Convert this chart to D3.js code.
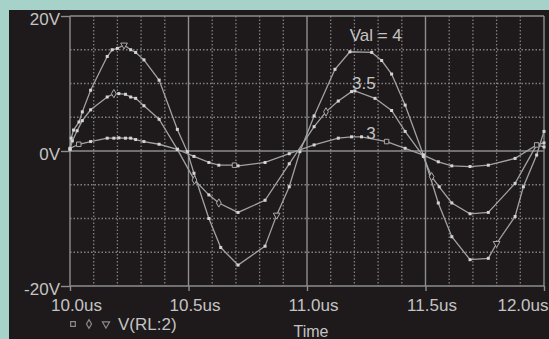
<!DOCTYPE html>
<html><head><meta charset="utf-8">
<script src="https://cdn.jsdelivr.net/npm/d3@7"></script>
<style>
html,body{margin:0;padding:0;background:#a7d2ca;overflow:hidden}
svg{display:block}
text{font-family:"Liberation Sans",Arial,sans-serif;fill:#c4c4c4}
</style></head><body>
<svg id="c" width="549" height="339"></svg>
<script>
// ---- data ----
const seriesNames = ["Val = 4", "3.5", "3"];
const xTicks = [10.0, 10.5, 11.0, 11.5, 12.0];
const yTicks = [20, 0, -20];
const xMinor = [10.1,10.2,10.3,10.4,10.6,10.7,10.8,10.9,11.1,11.2,11.3,11.4,11.6,11.7,11.8,11.9];
const yMinor = [15,10,5,-5,-10,-15];
const legendLabel = "V(RL:2)";
const xTitle = "Time";

const val4T = [10.000,10.005,10.015,10.038,10.052,10.087,10.157,10.178,10.200,10.228,10.256,10.277,10.312,10.376,10.453,10.495,10.523,10.586,10.636,10.709,10.823,10.872,10.925,10.970,11.030,11.118,11.181,11.273,11.315,11.357,11.414,11.491,11.554,11.611,11.688,11.765,11.800,11.878,11.913,11.969,12.000];
const val4V = [0.3,1.9,3.1,4.3,5.8,9.0,14.0,15.0,15.2,15.7,15.0,14.6,13.5,10.5,3.2,-0.1,-3.3,-10.0,-14.3,-16.9,-14.1,-9.5,-5.3,-0.1,5.2,12.1,14.7,14.6,13.4,11.4,6.8,-0.6,-7.7,-12.7,-16.1,-15.9,-13.7,-9.7,-5.3,-0.6,2.9];
const val35T = [10.000,10.010,10.030,10.052,10.087,10.157,10.185,10.206,10.234,10.256,10.277,10.312,10.376,10.453,10.525,10.586,10.628,10.709,10.823,10.925,11.030,11.080,11.132,11.188,11.202,11.287,11.357,11.414,11.491,11.526,11.558,11.611,11.688,11.765,11.878,11.969,12.000];
const val35V = [0.2,1.5,3.0,4.5,6.1,8.0,8.5,8.5,8.4,8.0,7.8,6.7,4.7,0.25,-4.3,-6.5,-7.7,-9.1,-7.3,-1.9,3.6,5.8,7.4,8.8,8.9,7.8,6.0,2.9,-0.8,-3.8,-5.3,-7.7,-9.3,-9.1,-4.8,0.9,1.2];
const val3T = [10.000,10.037,10.087,10.157,10.185,10.206,10.234,10.256,10.277,10.312,10.376,10.453,10.523,10.586,10.628,10.694,10.709,10.823,10.925,11.030,11.132,11.188,11.230,11.336,11.414,11.491,11.554,11.611,11.688,11.765,11.878,11.969,12.000];
const val3V = [0.4,1.0,1.4,1.9,1.9,1.95,1.9,1.9,1.7,1.4,1.0,0.25,-0.8,-1.7,-2.1,-2.1,-2.2,-1.7,-0.4,0.9,1.9,2.1,2.1,1.4,0.4,-0.6,-1.6,-2.2,-2.3,-2.1,-1.1,0.9,0.6];
// indices of points carrying the series symbol (triangle / diamond / square)
const val4Sym = [9, 21, 36];
const val35Sym = [6, 14, 16, 21, 29];
const val3Sym = [1, 15, 23, 31];
// label anchor points (t, v) for the series labels
const labelT = [11.18, 11.19, 11.25];
const labelV = [16.3, 9.2, 1.8];

// ---- chart ----
const svg = d3.select("#c");
svg.append("rect").attr("x",9).attr("y",10).attr("width",540).attr("height",329).attr("fill","#1e1a1b");

const L=70, R=544, T=16, B=286;
const x = d3.scaleLinear().domain([10,12]).range([L,R]);
const y = d3.scaleLinear().domain([-20,20]).range([B,T]);

const grid = svg.append("g");
grid.selectAll(".vm").data(xMinor).join("line")
  .attr("x1",d=>x(d)).attr("x2",d=>x(d)).attr("y1",T).attr("y2",B)
  .attr("stroke","#808080").attr("stroke-width",1.3).attr("stroke-dasharray","1.5,2");
grid.selectAll(".hm").data(yMinor).join("line")
  .attr("y1",d=>y(d)).attr("y2",d=>y(d)).attr("x1",L).attr("x2",R)
  .attr("stroke","#808080").attr("stroke-width",1.3).attr("stroke-dasharray","1.5,2");
grid.selectAll(".vM").data(xTicks).join("line")
  .attr("x1",d=>x(d)).attr("x2",d=>x(d)).attr("y1",T).attr("y2",B)
  .attr("stroke","#8e8e8e").attr("stroke-width",1.4);
grid.selectAll(".hM").data(yTicks).join("line")
  .attr("y1",d=>y(d)).attr("y2",d=>y(d)).attr("x1",L).attr("x2",R)
  .attr("stroke","#8e8e8e").attr("stroke-width",1.4);

// axes
const yAxis = d3.axisLeft(y).tickValues(yTicks).tickFormat(d=>d+"V").tickSize(9).tickPadding(1);
const gy = svg.append("g").attr("transform",`translate(${L},0)`).call(yAxis);
gy.select(".domain").remove();
gy.selectAll("line").attr("stroke","#8e8e8e").attr("stroke-width",1.4);
gy.selectAll("text").attr("font-size",17).attr("dy","0.5em").style("fill","#c4c4c4");

const xAxis = d3.axisBottom(x).tickValues(xTicks).tickFormat(d=>d.toFixed(1)+"us").tickSize(5).tickPadding(8);
const gx = svg.append("g").attr("transform",`translate(0,${B})`).call(xAxis);
gx.select(".domain").remove();
gx.selectAll("line").attr("stroke","#8e8e8e").attr("stroke-width",1.4);
gx.selectAll("text").attr("font-size",17).attr("dx",6).style("fill","#c4c4c4");
gx.selectAll(".tick").filter(d=>d===12).select("text").attr("text-anchor","end").attr("dx",4);

svg.append("text").attr("x",311).attr("y",337).attr("text-anchor","middle").attr("font-size",16).text(xTitle);

// series
const series = [
  {t:val4T, v:val4V, sym:val4Sym, shape:d3.symbolTriangle, rot:180},
  {t:val35T, v:val35V, sym:val35Sym, shape:d3.symbolDiamond, rot:0},
  {t:val3T, v:val3V, sym:val3Sym, shape:d3.symbolSquare, rot:0}
];
const line = d3.line().x(d=>x(d[0])).y(d=>y(d[1]));
series.forEach((s,si)=>{
  const pts = s.t.map((t,i)=>[t,s.v[i]]);
  const g = svg.append("g");
  g.append("path").datum(pts).attr("d",line).attr("fill","none")
    .attr("stroke","#a2a2a2").attr("stroke-width",1.3);
  g.selectAll("rect").data(pts).join("rect")
    .attr("x",d=>x(d[0])-1.5).attr("y",d=>y(d[1])-1.5).attr("width",3).attr("height",3)
    .attr("fill","#d4d4d4");
  g.selectAll(".sym").data(s.sym.map(i=>pts[i])).join("path")
    .attr("d",d3.symbol().type(s.shape).size(20))
    .attr("transform",d=>`translate(${x(d[0])},${y(d[1])}) rotate(${s.rot})`)
    .attr("fill","#1e1a1b").attr("stroke","#a8a8a8").attr("stroke-width",1);
  svg.append("text").attr("x",x(labelT[si])).attr("y",y(labelV[si]))
    .attr("font-size",17).text(seriesNames[si]);
});

// legend
const legShapes = [d3.symbolSquare, d3.symbolDiamond, d3.symbolTriangle];
const legX = [73, 89, 106];
legShapes.forEach((sh,i)=>{
  svg.append("path").attr("d",d3.symbol().type(sh).size(22))
    .attr("transform",`translate(${legX[i]},324) rotate(${i===2?180:0})`)
    .attr("fill","none").attr("stroke","#8a8a8a").attr("stroke-width",1.2);
});
svg.append("text").attr("x",118).attr("y",330).attr("font-size",17).text(legendLabel);
</script>
</body></html>
